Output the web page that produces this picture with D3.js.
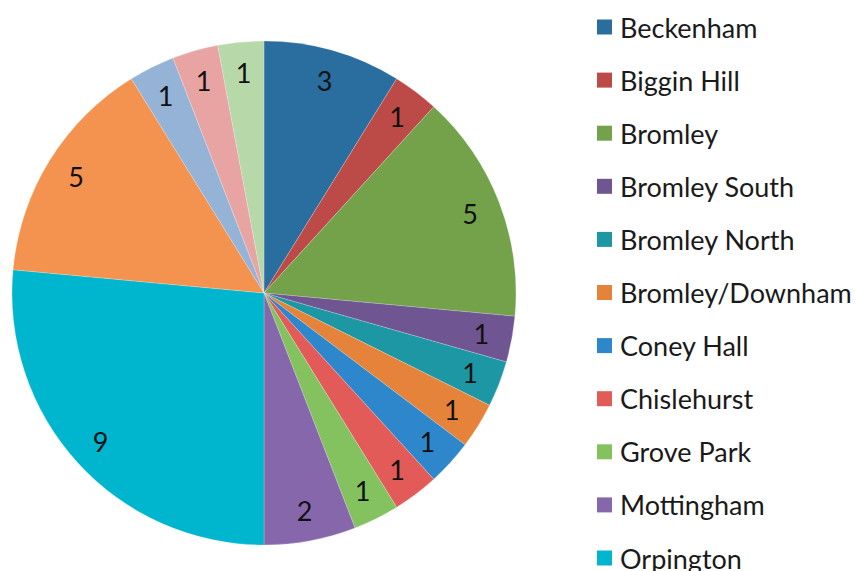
<!DOCTYPE html>
<html>
<head>
<meta charset="utf-8">
<script src="https://cdn.jsdelivr.net/npm/d3@7"></script>
<style>
  html, body { margin: 0; padding: 0; background: #fff; overflow: hidden; }
  svg { display: block; }
</style>
</head>
<body>
<svg id="chart" width="856" height="571"></svg>
<script>
// Legend categories (only the visible part of the legend)
const categories = ["Beckenham", "Biggin Hill", "Bromley", "Bromley South", "Bromley North",
  "Bromley/Downham", "Coney Hall", "Chislehurst", "Grove Park", "Mottingham", "Orpington"];
// Slice values, clockwise from 12 o'clock (last four slices' legend entries are cut off)
const values = [3, 1, 5, 1, 1, 1, 1, 1, 1, 2, 9, 5, 1, 1, 1];
const colors = ["#2A6EA0", "#BC4A47", "#73A24B", "#6F5591", "#1E97A5", "#E6833A",
  "#2E87CA", "#E25B58", "#83C25F", "#8767AB", "#00B6CE", "#F4924F", "#94B3D6", "#E8A3A3", "#B7D8A8"];

const svg = d3.select("#chart");
const cx = 264, cy = 293, R = 252;

const pie = d3.pie().sort(null).value(d => d)(values);
const arc = d3.arc().innerRadius(0).outerRadius(R);
const labelArc = d3.arc().innerRadius(221).outerRadius(221);

const g = svg.append("g").attr("transform", `translate(${cx},${cy})`);
g.selectAll("path").data(pie).join("path")
  .attr("d", arc)
  .attr("fill", (d, i) => colors[i])
  .attr("stroke", "rgba(255,255,255,0.35)")
  .attr("stroke-width", 0.6);

g.selectAll("text").data(pie).join("text")
  .attr("transform", d => `translate(${labelArc.centroid(d)})`)
  .attr("text-anchor", "middle")
  .attr("dominant-baseline", "central")
  .attr("font-family", "Lato, 'Open Sans', sans-serif")
  .attr("font-size", 27)
  .attr("fill", "#111")
  .text(d => d.data);

const legend = svg.append("g");
const ly = d3.scalePoint().domain(categories).range([27, 558]);
const items = legend.selectAll("g").data(categories).join("g")
  .attr("transform", d => `translate(597,${ly(d)})`);
items.append("rect")
  .attr("x", 0).attr("y", -7.5).attr("width", 15).attr("height", 15)
  .attr("fill", (d, i) => colors[i]);
items.append("text")
  .attr("x", 23).attr("y", 0)
  .attr("dominant-baseline", "central")
  .attr("font-family", "Lato, 'Open Sans', sans-serif")
  .attr("font-size", 27)
  .attr("fill", "#1a1a1a")
  .text(d => d);
</script>
</body>
</html>
